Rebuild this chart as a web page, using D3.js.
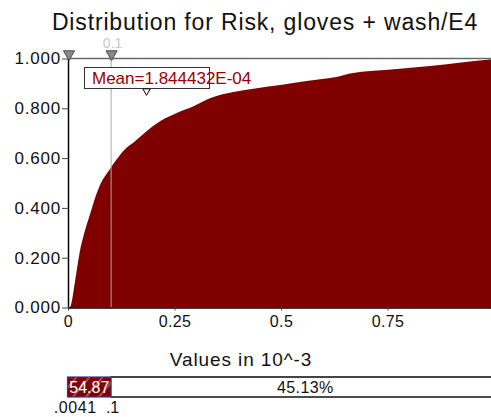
<!DOCTYPE html>
<html>
<head>
<meta charset="utf-8">
<script src="https://cdn.jsdelivr.net/npm/d3@7"></script>
<style>
  body { margin: 0; background: #fff; }
  svg { display: block; font-family: "Liberation Sans", Arial, sans-serif; }
</style>
</head>
<body>
<div id="chart_area"></div>
<script>
// cumulative curve, values in 10^-3
var values = [0.0041, 0.007, 0.017, 0.027, 0.038, 0.050, 0.062, 0.077, 0.097, 0.113, 0.132, 0.156, 0.183, 0.218, 0.254, 0.296, 0.333, 0.388, 0.443, 0.498, 0.56, 0.615, 0.638, 0.662, 0.772, 0.85, 0.928, 0.991];
var probs = [0, 0.01, 0.11, 0.218, 0.298, 0.365, 0.432, 0.499, 0.552, 0.592, 0.633, 0.666, 0.706, 0.75, 0.78, 0.809, 0.84, 0.865, 0.881, 0.894, 0.91, 0.922, 0.929, 0.94, 0.958, 0.97, 0.985, 0.996];
var xTicks = [0, 0.25, 0.5, 0.75];
var xTickLabels = ["0", "0.25", "0.5", "0.75"];
var yTicks = [0, 0.2, 0.4, 0.6, 0.8, 1.0];
var delimiters = [0.0041, 0.1];
var delimiterLabels = [".0041", ".1"];
var percents = ["54.87", "45.13%"];
var meanValue = 0.1844432;
var meanLabel = "Mean=1.844432E-04";

var svg = d3.select("#chart_area")
    .append("svg")
    .attr("width", 491)
    .attr("height", 417);

var x = d3.scaleLinear().domain([0, 1]).range([68, 494]);
var y = d3.scaleLinear().domain([0, 1]).range([307.5, 58.5]);

// title
svg.append("text")
    .attr("x", 265)
    .attr("y", 30)
    .attr("text-anchor", "middle")
    .style("font-size", "23px")
    .style("letter-spacing", "0.85px")
    .attr("fill", "#111")
    .text("Distribution for Risk, gloves + wash/E4");

// filled curve
var area = d3.area()
    .curve(d3.curveMonotoneX)
    .x(function(d, i) { return x(values[i]); })
    .y0(y(0))
    .y1(function(d) { return y(d); });

svg.append("path")
    .datum(probs)
    .attr("fill", "#800000")
    .attr("d", area);

// extend the fill to the right edge of the window
var lastX = values[values.length - 1], lastP = probs[probs.length - 1];
svg.append("path")
    .attr("fill", "#800000")
    .attr("d", "M" + (x(lastX) - 0.5) + "," + y(0) +
        "L" + (x(lastX) - 0.5) + "," + y(lastP) +
        "L" + x(1) + "," + y(1) + "L" + x(1) + "," + y(0) + "Z");

// delimiter line at 0.1
svg.append("line")
    .attr("x1", x(delimiters[1]) + 0.5)
    .attr("x2", x(delimiters[1]) + 0.5)
    .attr("y1", y(1))
    .attr("y2", y(0))
    .attr("stroke", "#a8a8a8")
    .attr("stroke-width", 1);

// frame
svg.append("line")
    .attr("x1", x(0)).attr("x2", 491)
    .attr("y1", y(1)).attr("y2", y(1))
    .attr("stroke", "#6a6a6a")
    .attr("stroke-width", 1.5);

var yAxis = d3.axisLeft(y)
    .tickValues(yTicks)
    .tickFormat(d3.format(".3f"))
    .tickSize(6)
    .tickSizeOuter(0);

var gy = svg.append("g")
    .attr("transform", "translate(" + x(0) + ",0)")
    .call(yAxis);
gy.select(".domain").attr("stroke", "#000").attr("stroke-width", 1.5);
gy.selectAll(".tick line").attr("stroke", "#444");
gy.selectAll(".tick text")
    .attr("x", -7)
    .style("font-size", "17px")
    .style("letter-spacing", "0.8px")
    .style("font-family", "Liberation Sans, Arial, sans-serif")
    .attr("fill", "#111");

var xAxis = d3.axisBottom(x)
    .tickValues(xTicks)
    .tickFormat(function(d, i) { return xTickLabels[i]; })
    .tickSize(3)
    .tickSizeOuter(0);

var gx = svg.append("g")
    .attr("transform", "translate(0," + y(0) + ")")
    .call(xAxis);
gx.select(".domain").attr("stroke", "#000").attr("stroke-width", 1.5);
gx.selectAll(".tick line").attr("stroke", "#444");
gx.selectAll(".tick text")
    .attr("y", 8)
    .style("font-size", "16px")
    .style("letter-spacing", "0.4px")
    .style("font-family", "Liberation Sans, Arial, sans-serif")
    .attr("fill", "#111");

// delimiter markers on top
var tri = d3.symbol().type(d3.symbolTriangle).size(55);
svg.selectAll(".marker")
    .data([0, delimiters[1]])
    .enter().append("path")
    .attr("class", "marker")
    .attr("d", tri)
    .attr("transform", function(d) { return "translate(" + (x(d) + 1) + ",54) rotate(180)"; })
    .attr("fill", "#888")
    .attr("stroke", "#333")
    .attr("stroke-width", 0.8);

svg.append("text")
    .attr("x", x(delimiters[1]) + 2)
    .attr("y", 48)
    .attr("text-anchor", "middle")
    .style("font-size", "14px")
    .attr("fill", "#c8c8c8")
    .text("0.1");

// mean label
svg.append("rect")
    .attr("x", 84.5)
    .attr("y", 67.5)
    .attr("width", 125)
    .attr("height", 21)
    .attr("fill", "#fff")
    .attr("stroke", "#333")
    .attr("stroke-width", 1);

svg.append("text")
    .attr("x", 92)
    .attr("y", 84)
    .style("font-size", "17px")
    .attr("fill", "#990000")
    .text(meanLabel);

svg.append("path")
    .attr("d", d3.symbol().type(d3.symbolTriangle).size(24))
    .attr("transform", "translate(" + x(meanValue) + ",91) rotate(180)")
    .attr("fill", "#fff")
    .attr("stroke", "#000")
    .attr("stroke-width", 1);

// x axis title
svg.append("text")
    .attr("x", 241)
    .attr("y", 366)
    .attr("text-anchor", "middle")
    .style("font-size", "19px")
    .style("letter-spacing", "0.9px")
    .attr("fill", "#111")
    .text("Values in 10^-3");

// delimiter bar
var defs = svg.append("defs");
var pat = defs.append("pattern")
    .attr("id", "hatch")
    .attr("patternUnits", "userSpaceOnUse")
    .attr("width", 10)
    .attr("height", 10)
    .attr("patternTransform", "rotate(40)");
pat.append("rect").attr("width", 10).attr("height", 10).attr("fill", "#800000");
pat.append("line")
    .attr("x1", 1).attr("x2", 1).attr("y1", 0).attr("y2", 10)
    .attr("stroke", "#b8a8a8").attr("stroke-width", 1);

var barTop = 377, barH = 20;

svg.append("rect")
    .attr("x", x(delimiters[1]))
    .attr("y", barTop)
    .attr("width", 500 - x(delimiters[1]))
    .attr("height", barH)
    .attr("fill", "#fff");
svg.append("line")
    .attr("x1", x(delimiters[1])).attr("x2", 491)
    .attr("y1", barTop).attr("y2", barTop)
    .attr("stroke", "#444").attr("stroke-width", 2);
svg.append("line")
    .attr("x1", x(delimiters[1])).attr("x2", 491)
    .attr("y1", barTop + barH).attr("y2", barTop + barH)
    .attr("stroke", "#111").attr("stroke-width", 1.5);

svg.append("rect")
    .attr("x", x(0) - 0.5)
    .attr("y", barTop)
    .attr("width", x(delimiters[1]) - x(0) + 1)
    .attr("height", barH)
    .attr("fill", "url(#hatch)")
    .attr("stroke", "#3a3a90")
    .attr("stroke-width", 1.2);

svg.append("text")
    .attr("x", (x(0) + x(delimiters[1])) / 2)
    .attr("y", barTop + 16)
    .attr("text-anchor", "middle")
    .style("font-size", "16px")
    .attr("fill", "#fff")
    .text(percents[0]);

svg.append("text")
    .attr("x", (x(delimiters[1]) + 500) / 2)
    .attr("y", barTop + 16)
    .attr("text-anchor", "middle")
    .style("font-size", "16px")
    .style("letter-spacing", "0.4px")
    .attr("fill", "#111")
    .text(percents[1]);

svg.append("text")
    .attr("x", x(delimiters[0]) + 27)
    .attr("y", 413)
    .attr("text-anchor", "end")
    .style("font-size", "16px")
    .style("letter-spacing", "0.6px")
    .attr("fill", "#111")
    .text(delimiterLabels[0]);

svg.append("text")
    .attr("x", x(delimiters[1]) + 2)
    .attr("y", 413)
    .attr("text-anchor", "middle")
    .style("font-size", "16px")
    .attr("fill", "#111")
    .text(delimiterLabels[1]);
</script>
</body>
</html>
